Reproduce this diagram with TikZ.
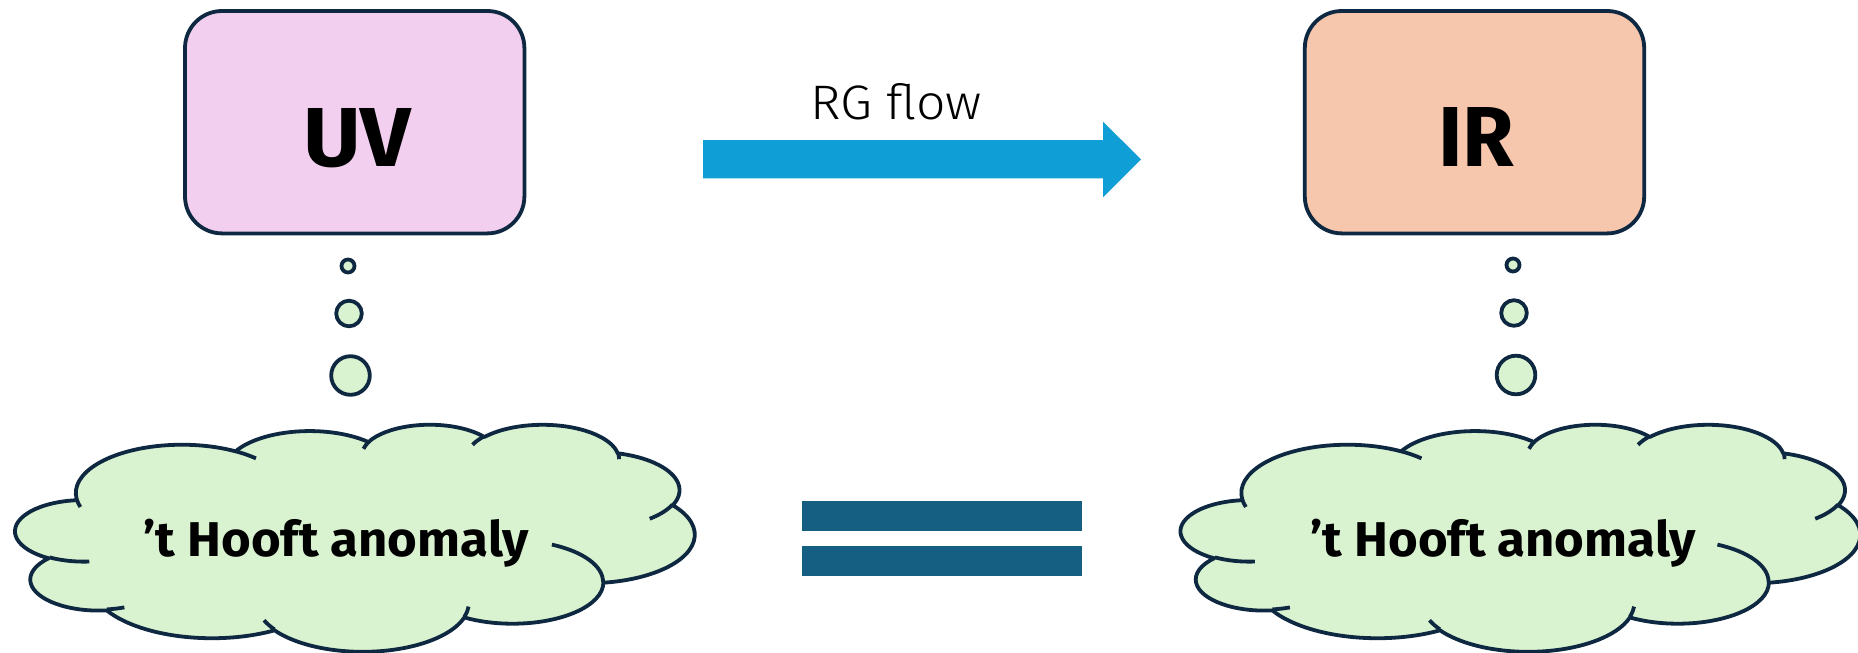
\documentclass[tikz,border=0pt]{standalone}
\usepackage{fontspec}
\usepackage{graphicx}
\setmainfont{Noto Sans}
\newfontfamily\rgfont{Fira Sans Light}
\newfontfamily\bfont{Fira Sans Bold}
\definecolor{outl}{HTML}{0E2841}
\definecolor{uvfill}{HTML}{F2CFEE}
\definecolor{irfill}{HTML}{F6C6AD}
\definecolor{cloudfill}{HTML}{D9F2D0}
\definecolor{arrowblue}{HTML}{0F9ED5}
\definecolor{eqblue}{HTML}{156082}
\tikzset{declare function={vp(\vq,\vw,\vh)=(\vq)+Mod(atan2(\vw*sin(\vq),\vh*cos(\vq))-(\vq)+180,360)-180;}}
\newcommand\defarc[5]{%
  \pgfmathsetmacro\ooS{vp(#4,#2,#3)}%
  \pgfmathsetmacro\ooE{vp(#4+#5,#2,#3)}%
  \xdef#1{arc[start angle=\ooS, end angle=\ooE, x radius=#2pt, y radius=#3pt]}%
}
\newcommand\cloudshape[2]{% #1 = shift coordinate, #2 = name
  \begin{scope}[shift={#1}, x=1pt, y=1pt, xscale=7.8588, yscale=-2.6273]
    \filldraw[outline, fill=cloudfill] (3.9,14.37) \ocA \ocB \ocC \ocD \ocE \ocF \ocG \ocH \ocI \ocJ \ocK -- cycle;
    \draw[outline] (4.693,26.177) \oiA (6.928,34.899) \oiB (16.478,39.090) \oiC
      (28.827,34.751) \oiD (34.129,22.954) \oiE (41.798,15.354) \oiF
      (38.324,5.426) \oiG (29.078,3.952) \oiH (22.141,4.720) \oiI
      (14.000,5.192) \oiJ (4.127,15.789) \oiK;
    \coordinate (#2) at (21.6,21.6);
  \end{scope}
}
\begin{document}
\begin{tikzpicture}[x=0.5pt,y=-0.5pt, line join=round,
  outline/.style={draw=outl, line width=1.9pt},
  stage/.style={outline, rounded corners=18.5pt, minimum width=169.7pt, minimum height=111.2pt, inner sep=0pt, outer sep=0pt},
  bubble/.style={outline, circle, fill=cloudfill, inner sep=0pt, outer sep=0pt},
  txt/.style={anchor=base west, inner sep=0pt, outer sep=0pt},
  eqbar/.style={fill=eqblue, minimum width=140pt, minimum height=15pt, inner sep=0pt, outer sep=0pt}]
\defarc{\ocA}{6.753}{9.190}{-190.4875}{123.7805}
\defarc{\ocB}{5.333}{7.267}{-144.1024}{89.9452}
\defarc{\ocC}{4.365}{5.945}{-145.8079}{99.7230}
\defarc{\ocD}{4.857}{6.595}{-130.9861}{117.2417}
\defarc{\ocE}{5.333}{7.273}{-78.7089}{109.0269}
\defarc{\ocF}{6.775}{9.220}{-46.2673}{130.2690}
\defarc{\ocG}{5.785}{7.867}{0.6250}{114.0333}
\defarc{\ocH}{6.752}{9.215}{22.4516}{115.1726}
\defarc{\ocI}{7.720}{10.543}{66.2426}{75.7110}
\defarc{\ocJ}{4.360}{5.918}{-274.9421}{146.7356}
\defarc{\ocK}{4.345}{5.945}{-246.8285}{152.5189}
\defarc{\oiA}{4.345}{5.945}{86.7420}{26.4295}
\defarc{\oiB}{4.360}{5.918}{73.6105}{11.4475}
\defarc{\oiC}{6.752}{9.215}{137.6242}{14.0811}
\defarc{\oiD}{6.752}{9.215}{6.4533}{15.9984}
\defarc{\oiE}{5.785}{7.867}{-70.2924}{70.9174}
\defarc{\oiF}{5.333}{7.273}{30.3180}{27.7515}
\defarc{\oiG}{4.857}{6.595}{-13.7443}{14.8589}
\defarc{\oiH}{4.857}{6.595}{-149.1815}{18.1954}
\defarc{\oiI}{4.365}{5.945}{-163.4943}{17.6864}
\defarc{\oiJ}{6.753}{9.190}{-66.7070}{12.3194}
\defarc{\oiK}{6.753}{9.190}{157.6544}{11.8582}

\fill[white] (0,0) rectangle (1858,653);
\useasboundingbox (0,0) rectangle (1858,653);

% stage boxes
\node[stage, fill=uvfill] (uv) at (354.7,122.2) {};
\node[stage, fill=irfill] (ir) at (1474.5,122.2) {};
\node[txt] (uvlabel) at (303,166) {\resizebox{54pt}{29pt}{\bfont UV}};
\node[txt] (irlabel) at (1438,166.5) {\resizebox{38pt}{29.5pt}{\bfont IR}};

% RG flow arrow
\fill[arrowblue] (703,140) -- (1103,140) -- (1103,121.7) -- (1141,159.3)
  -- (1103,197.3) -- (1103,178.3) -- (703,178.3) -- cycle;
\node[txt] (rglabel) at (810,119.3) {\resizebox{86pt}{18pt}{\rgfont RG flow}};

% thought bubbles
\node[bubble, minimum size=6.5pt]  (uvb1) at (348,266) {};
\node[bubble, minimum size=12.8pt] (uvb2) at (349,313.5) {};
\node[bubble, minimum size=19.3pt] (uvb3) at (350.5,375.5) {};
\node[bubble, minimum size=6.5pt]  (irb1) at (1513,265) {};
\node[bubble, minimum size=12.8pt] (irb2) at (1514,313) {};
\node[bubble, minimum size=19.3pt] (irb3) at (1516,375) {};

% clouds
\cloudshape{(15.5,424)}{uvcloud}
\cloudshape{(1181,424)}{ircloud}
\node[txt] (uvanom) at (143,556.7) {\resizebox{193pt}{18.7pt}{\bfont ’t Hooft anomaly}};
\node[txt] (iranom) at (1310,556.7) {\resizebox{193pt}{18.7pt}{\bfont ’t Hooft anomaly}};

% equals sign
\node[eqbar] (eqtop) at (941.7,516) {};
\node[eqbar] (eqbot) at (941.7,560.7) {};
\end{tikzpicture}
\end{document}
